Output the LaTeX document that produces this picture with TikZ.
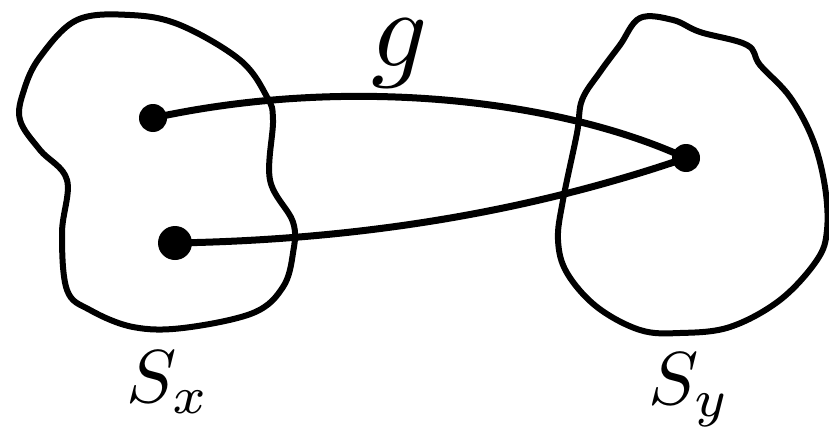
\documentclass[tikz,border=0pt]{standalone}
\usepackage{amsmath, amssymb}
\usetikzlibrary{positioning}

\tikzset{
  blob/.style={line width=6pt, line join=round},
  mapline/.style={line width=7pt, line cap=round},
  dot/.style={circle, fill=black, inner sep=0pt, minimum size=#1},
  biglabel/.style={scale=#1, inner sep=0pt}
}

\begin{document}
\begin{tikzpicture}[x=1pt, y=-1pt]
    \useasboundingbox (0,0) rectangle (829,428);

    % Left set
    \draw[blob] plot[smooth cycle, tension=0.6] coordinates {
      (77,20) (130,15) (180,25) (240,60) (267,97) (273,120) (270,180)
      (293,222) (293,253) (283,287) (253,313) (183,328) (133,327)
      (90,310) (67,290) (62,233) (67,180) (40,150) (20,120) (24,90)
      (40,57)};

    % Right set
    \draw[blob] plot[smooth cycle, tension=0.6] coordinates {
      (640,18) (673,20) (700,32) (747,45) (760,65) (790,97) (813,140)
      (825,187) (827,230) (817,260) (780,300) (730,327) (680,333)
      (640,330) (597,307) (567,273) (558,240) (563,200) (577,133)
      (582,100) (600,72) (620,45)};

    % Points
    \node[dot=28pt] (ptop) at (153,118) {};
    \node[dot=34pt] (pbot) at (175,243) {};
    \node[dot=28pt] (img) at (686,158) {};

    % The map g
    \draw[mapline] (ptop.center) .. controls (350,75) and (560,100) .. (img.center);
    \draw[mapline] (pbot.center) .. controls (350,240) and (520,215) .. (img.center);

    \node[biglabel=11] (glabel) at (400,54) {\(g\)};
    \node[biglabel=7.5] (sxlabel) at (168,382) {\(S_x\)};
    \node[biglabel=7.5] (sylabel) at (690,390) {\(S_y\)};
\end{tikzpicture}
\end{document}
